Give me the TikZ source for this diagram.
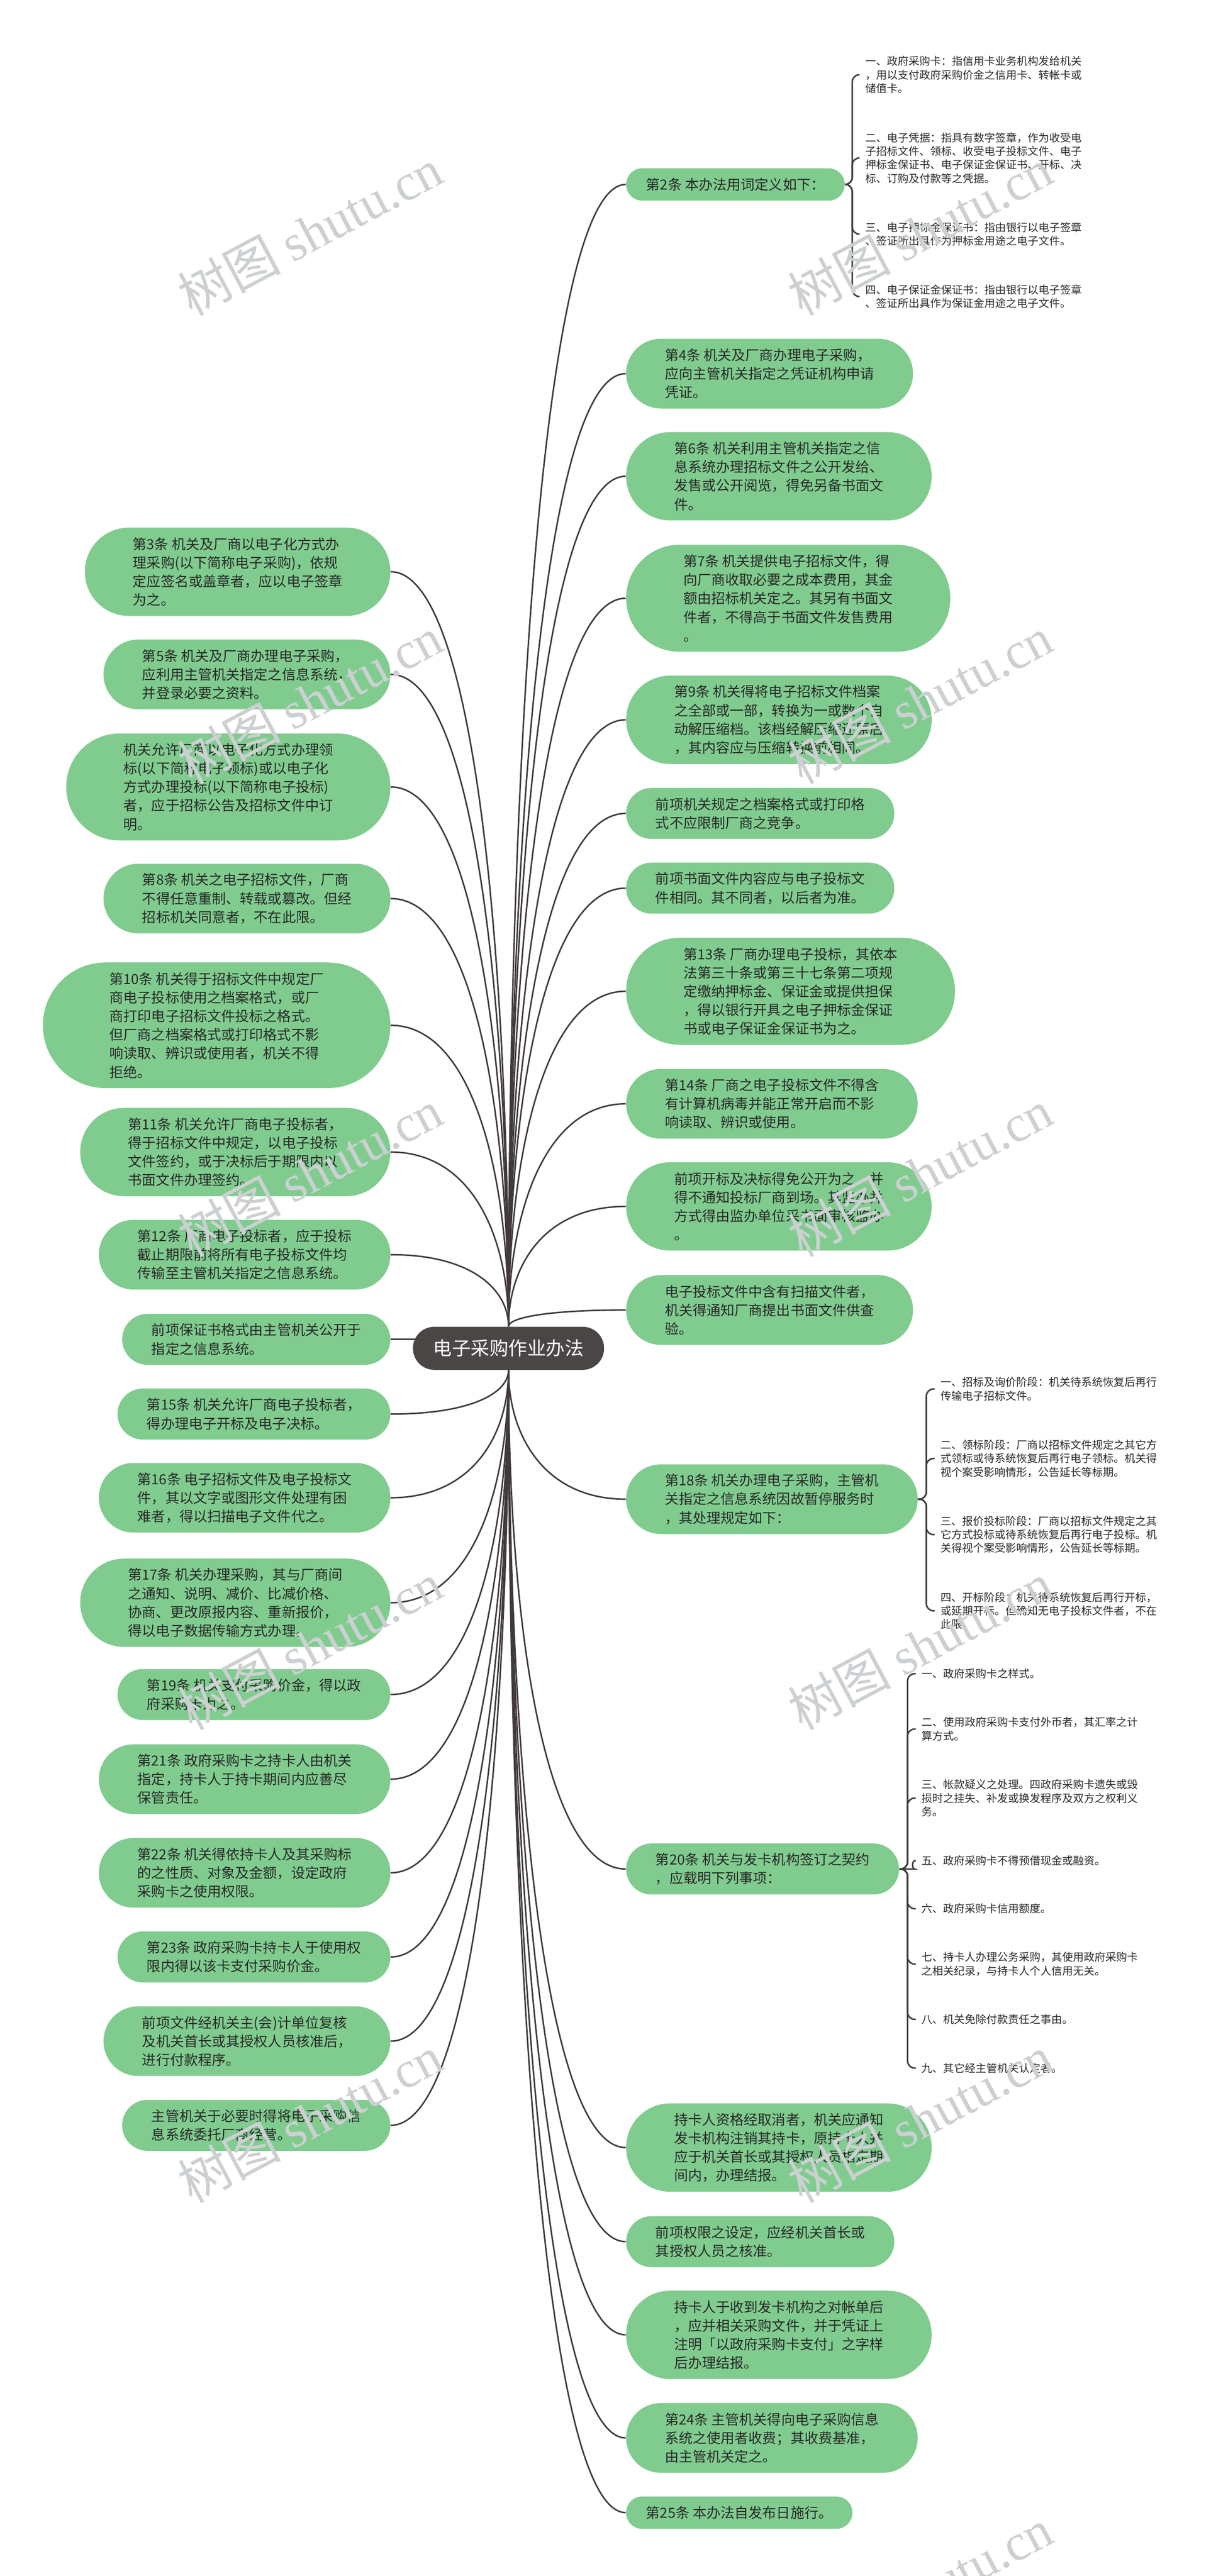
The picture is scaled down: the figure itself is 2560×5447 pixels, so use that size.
\documentclass[tikz,border=0pt]{standalone}
\usepackage{fontspec}
\setmainfont{Noto Sans CJK SC}
\newfontfamily\wmserif{Liberation Serif}
\usepackage{xcolor}
\usepackage{tikz}
\usetikzlibrary{backgrounds, calc}
\definecolor{mapgreen}{RGB}{128,204,143}
\definecolor{mapdark}{RGB}{74,70,70}
\definecolor{mapline}{RGB}{64,58,58}
\definecolor{maptext}{RGB}{40,40,40}
\definecolor{mapmark}{RGB}{205,208,210}

\begin{document}
\begin{tikzpicture}[
    x=0.01cm, y=-0.01cm,
    root/.style={rectangle, rounded corners=0.45cm, fill=mapdark, text=white, font=\fontsize{11.3pt}{13pt}\selectfont, minimum height=0.91cm, inner xsep=0.43cm, inner ysep=0.1cm},
    topic/.style={rectangle, fill=mapgreen, text=maptext, align=left, font=\fontsize{8.4pt}{11.2pt}\selectfont,
        minimum height={(0.394*#1+0.29)*1cm}, rounded corners={(0.196*#1+0.144)*1cm},
        inner xsep={(0.197*#1+0.145+0.08)*1cm}, inner ysep=0.1cm},
    leaf/.style={text=maptext, align=left, font=\fontsize{6.5pt}{8.15pt}\selectfont, inner xsep=0.12cm, inner ysep=0.03cm},
    link/.style={draw=mapline, line width=0.9pt},
    branch/.style={to path={.. controls ($(\tikztostart)!0.5!(\tikztostart |- \tikztotarget)$) and ($(\tikztotarget)!0.7!(\tikztostart |- \tikztotarget)$) .. (\tikztotarget)}},
    brace/.style={draw=mapline, line width=0.9pt, rounded corners=0.15cm},
    wmtext/.style={text=mapmark, rotate=28, font=\fontsize{31pt}{31pt}\selectfont}
]
\useasboundingbox (0,0) rectangle (2560,5447);

% Center topic
\node[root] (ctr) at (1075,2851) {电子采购作业办法};

% Right branches
\node[topic=1, anchor=west] (r1) at (1323,390) {第2条 本办法用词定义如下：};
\node[topic=3, anchor=west] (r2) at (1323,790) {第4条 机关及厂商办理电子采购，\\应向主管机关指定之凭证机构申请\\凭证。};
\node[topic=4, anchor=west] (r3) at (1323,1007) {第6条 机关利用主管机关指定之信\\息系统办理招标文件之公开发给、\\发售或公开阅览，得免另备书面文\\件。};
\node[topic=5, anchor=west] (r4) at (1323,1265) {第7条 机关提供电子招标文件，得\\向厂商收取必要之成本费用，其金\\额由招标机关定之。其另有书面文\\件者，不得高于书面文件发售费用\\。};
\node[topic=4, anchor=west] (r5) at (1323,1522) {第9条 机关得将电子招标文件档案\\之全部或一部，转换为一或数个自\\动解压缩档。该档经解压缩还原后\\，其内容应与压缩转换前相同。};
\node[topic=2, anchor=west] (r6) at (1323,1720) {前项机关规定之档案格式或打印格\\式不应限制厂商之竞争。};
\node[topic=2, anchor=west] (r7) at (1323,1878) {前项书面文件内容应与电子投标文\\件相同。其不同者，以后者为准。};
\node[topic=5, anchor=west] (r8) at (1323,2096) {第13条 厂商办理电子投标，其依本\\法第三十条或第三十七条第二项规\\定缴纳押标金、保证金或提供担保\\，得以银行开具之电子押标金保证\\书或电子保证金保证书为之。};
\node[topic=3, anchor=west] (r9) at (1323,2334) {第14条 厂商之电子投标文件不得含\\有计算机病毒并能正常开启而不影\\响读取、辨识或使用。};
\node[topic=4, anchor=west] (r10) at (1323,2551) {前项开标及决标得免公开为之，并\\得不通知投标厂商到场。其监办并\\方式得由监办单位采书面审核监办\\。};
\node[topic=3, anchor=west] (r11) at (1323,2770) {电子投标文件中含有扫描文件者，\\机关得通知厂商提出书面文件供查\\验。};
\node[topic=3, anchor=west] (r12) at (1323,3170) {第18条 机关办理电子采购，主管机\\关指定之信息系统因故暂停服务时\\，其处理规定如下：};
\node[topic=2, anchor=west] (r13) at (1323,3952) {第20条 机关与发卡机构签订之契约\\，应载明下列事项：};
\node[topic=4, anchor=west] (r14) at (1323,4541) {持卡人资格经取消者，机关应通知\\发卡机构注销其持卡，原持卡人并\\应于机关首长或其授权人员指定期\\间内，办理结报。};
\node[topic=2, anchor=west] (r15) at (1323,4740) {前项权限之设定，应经机关首长或\\其授权人员之核准。};
\node[topic=4, anchor=west] (r16) at (1323,4937) {持卡人于收到发卡机构之对帐单后\\，应并相关采购文件，并于凭证上\\注明「以政府采购卡支付」之字样\\后办理结报。};
\node[topic=3, anchor=west] (r17) at (1323,5155) {第24条 主管机关得向电子采购信息\\系统之使用者收费；其收费基准，\\由主管机关定之。};
\node[topic=1, anchor=west] (r18) at (1323,5313) {第25条 本办法自发布日施行。};

% Left branches
\node[topic=4, anchor=east] (l1) at (826,1209) {第3条 机关及厂商以电子化方式办\\理采购(以下简称电子采购)，依规\\定应签名或盖章者，应以电子签章\\为之。};
\node[topic=3, anchor=east] (l2) at (826,1426) {第5条 机关及厂商办理电子采购，\\应利用主管机关指定之信息系统，\\并登录必要之资料。};
\node[topic=5, anchor=east] (l3) at (826,1664) {机关允许厂商以电子化方式办理领\\标(以下简称电子领标)或以电子化\\方式办理投标(以下简称电子投标)\\者，应于招标公告及招标文件中订\\明。};
\node[topic=3, anchor=east] (l4) at (826,1900) {第8条 机关之电子招标文件，厂商\\不得任意重制、转载或篡改。但经\\招标机关同意者，不在此限。};
\node[topic=6, anchor=east] (l5) at (826,2168) {第10条 机关得于招标文件中规定厂\\商电子投标使用之档案格式，或厂\\商打印电子招标文件投标之格式。\\但厂商之档案格式或打印格式不影\\响读取、辨识或使用者，机关不得\\拒绝。};
\node[topic=4, anchor=east] (l6) at (826,2436) {第11条 机关允许厂商电子投标者，\\得于招标文件中规定，以电子投标\\文件签约，或于决标后于期限内以\\书面文件办理签约。};
\node[topic=3, anchor=east] (l7) at (826,2653) {第12条 厂商电子投标者，应于投标\\截止期限前将所有电子投标文件均\\传输至主管机关指定之信息系统。};
\node[topic=2, anchor=east] (l8) at (826,2832) {前项保证书格式由主管机关公开于\\指定之信息系统。};
\node[topic=2, anchor=east] (l9) at (826,2990) {第15条 机关允许厂商电子投标者，\\得办理电子开标及电子决标。};
\node[topic=3, anchor=east] (l10) at (826,3167) {第16条 电子招标文件及电子投标文\\件，其以文字或图形文件处理有困\\难者，得以扫描电子文件代之。};
\node[topic=4, anchor=east] (l11) at (826,3389) {第17条 机关办理采购，其与厂商间\\之通知、说明、减价、比减价格、\\协商、更改原报内容、重新报价，\\得以电子数据传输方式办理。};
\node[topic=2, anchor=east] (l12) at (826,3583) {第19条 机关支付采购价金，得以政\\府采购卡为之。};
\node[topic=3, anchor=east] (l13) at (826,3762) {第21条 政府采购卡之持卡人由机关\\指定，持卡人于持卡期间内应善尽\\保管责任。};
\node[topic=3, anchor=east] (l14) at (826,3960) {第22条 机关得依持卡人及其采购标\\的之性质、对象及金额，设定政府\\采购卡之使用权限。};
\node[topic=2, anchor=east] (l15) at (826,4138) {第23条 政府采购卡持卡人于使用权\\限内得以该卡支付采购价金。};
\node[topic=3, anchor=east] (l16) at (826,4316) {前项文件经机关主(会)计单位复核\\及机关首长或其授权人员核准后，\\进行付款程序。};
\node[topic=2, anchor=east] (l17) at (826,4494) {主管机关于必要时得将电子采购信\\息系统委托厂商经营。};

% Details of article 2
\node[leaf, anchor=west] (d1) at (1817,158) {一、政府采购卡：指信用卡业务机构发给机关\\，用以支付政府采购价金之信用卡、转帐卡或\\储值卡。};
\node[leaf, anchor=west] (d2) at (1817,334) {二、电子凭据：指具有数字签章，作为收受电\\子招标文件、领标、收受电子投标文件、电子\\押标金保证书、电子保证金保证书、开标、决\\标、订购及付款等之凭据。};
\node[leaf, anchor=west] (d3) at (1817,495) {三、电子押标金保证书：指由银行以电子签章\\、签证所出具作为押标金用途之电子文件。};
\node[leaf, anchor=west] (d4) at (1817,627) {四、电子保证金保证书：指由银行以电子签章\\、签证所出具作为保证金用途之电子文件。};

% Details of article 18
\node[leaf, anchor=west] (e1) at (1976,2937) {一、招标及询价阶段：机关待系统恢复后再行\\传输电子招标文件。};
\node[leaf, anchor=west] (e2) at (1976,3084) {二、领标阶段：厂商以招标文件规定之其它方\\式领标或待系统恢复后再行电子领标。机关得\\视个案受影响情形，公告延长等标期。};
\node[leaf, anchor=west] (e3) at (1976,3245) {三、报价投标阶段：厂商以招标文件规定之其\\它方式投标或待系统恢复后再行电子投标。机\\关得视个案受影响情形，公告延长等标期。};
\node[leaf, anchor=west] (e4) at (1976,3406) {四、开标阶段：机关待系统恢复后再行开标，\\或延期开标。但确知无电子投标文件者，不在\\此限。};

% Details of article 20
\node[leaf, anchor=west] (f1) at (1936,3539) {一、政府采购卡之样式。};
\node[leaf, anchor=west] (f2) at (1936,3656) {二、使用政府采购卡支付外币者，其汇率之计\\算方式。};
\node[leaf, anchor=west] (f3) at (1936,3802) {三、帐款疑义之处理。四政府采购卡遗失或毁\\损时之挂失、补发或换发程序及双方之权利义\\务。};
\node[leaf, anchor=west] (f4) at (1936,3934) {五、政府采购卡不得预借现金或融资。};
\node[leaf, anchor=west] (f5) at (1936,4036) {六、政府采购卡信用额度。};
\node[leaf, anchor=west] (f6) at (1936,4153) {七、持卡人办理公务采购，其使用政府采购卡\\之相关纪录，与持卡人个人信用无关。};
\node[leaf, anchor=west] (f7) at (1936,4270) {八、机关免除付款责任之事由。};
\node[leaf, anchor=west] (f8) at (1936,4373) {九、其它经主管机关认定者。};

% Junctions of the brackets
\coordinate (j2) at ($(r1.east)!0.5!(d1.west |- r1.east)$);
\coordinate (j18) at ($(r12.east)!0.5!(e1.west |- r12.east)$);
\coordinate (j20) at ($(r13.east)!0.5!(f1.west |- r13.east)$);

\begin{scope}[on background layer]
% Background
\fill[white] (0,0) rectangle (2560,5447);

% Connectors to the right
\draw[link] (ctr.north) to[branch] (r1.west);
\draw[link] (ctr.north) to[branch] (r2.west);
\draw[link] (ctr.north) to[branch] (r3.west);
\draw[link] (ctr.north) to[branch] (r4.west);
\draw[link] (ctr.north) to[branch] (r5.west);
\draw[link] (ctr.north) to[branch] (r6.west);
\draw[link] (ctr.north) to[branch] (r7.west);
\draw[link] (ctr.north) to[branch] (r8.west);
\draw[link] (ctr.north) to[branch] (r9.west);
\draw[link] (ctr.north) to[branch] (r10.west);
\draw[link] (ctr.north) to[branch] (r11.west);
\draw[link] (ctr.south) to[branch] (r12.west);
\draw[link] (ctr.south) to[branch] (r13.west);
\draw[link] (ctr.south) to[branch] (r14.west);
\draw[link] (ctr.south) to[branch] (r15.west);
\draw[link] (ctr.south) to[branch] (r16.west);
\draw[link] (ctr.south) to[branch] (r17.west);
\draw[link] (ctr.south) to[branch] (r18.west);

% Connectors to the left
\draw[link] (ctr.north) to[branch] (l1.east);
\draw[link] (ctr.north) to[branch] (l2.east);
\draw[link] (ctr.north) to[branch] (l3.east);
\draw[link] (ctr.north) to[branch] (l4.east);
\draw[link] (ctr.north) to[branch] (l5.east);
\draw[link] (ctr.north) to[branch] (l6.east);
\draw[link] (ctr.north) to[branch] (l7.east);
\draw[link] (l8.east) -- (l8.east -| ctr.center);
\draw[link] (ctr.south) to[branch] (l9.east);
\draw[link] (ctr.south) to[branch] (l10.east);
\draw[link] (ctr.south) to[branch] (l11.east);
\draw[link] (ctr.south) to[branch] (l12.east);
\draw[link] (ctr.south) to[branch] (l13.east);
\draw[link] (ctr.south) to[branch] (l14.east);
\draw[link] (ctr.south) to[branch] (l15.east);
\draw[link] (ctr.south) to[branch] (l16.east);
\draw[link] (ctr.south) to[branch] (l17.east);

% Brackets
\draw[brace] (r1.east) -- (j2) |- (d1.west);
\draw[brace] (r1.east) -- (j2) |- (d2.west);
\draw[brace] (r1.east) -- (j2) |- (d3.west);
\draw[brace] (r1.east) -- (j2) |- (d4.west);
\draw[brace] (r12.east) -- (j18) |- (e1.west);
\draw[brace] (r12.east) -- (j18) |- (e2.west);
\draw[brace] (r12.east) -- (j18) |- (e3.west);
\draw[brace] (r12.east) -- (j18) |- (e4.west);
\draw[brace] (r13.east) -- (j20) |- (f1.west);
\draw[brace] (r13.east) -- (j20) |- (f2.west);
\draw[brace] (r13.east) -- (j20) |- (f3.west);
\draw[brace] (r13.east) -- (j20) to[out=0, in=180] (f4.west);
\draw[brace] (r13.east) -- (j20) |- (f5.west);
\draw[brace] (r13.east) -- (j20) |- (f6.west);
\draw[brace] (r13.east) -- (j20) |- (f7.west);
\draw[brace] (r13.east) -- (j20) |- (f8.west);
\end{scope}

% Watermarks
\node[wmtext] (wm1) at (655,490) {树图 {\wmserif shutu.cn}};
\node[wmtext] (wm2) at (1945,490) {树图 {\wmserif shutu.cn}};
\node[wmtext] (wm3) at (655,1480) {树图 {\wmserif shutu.cn}};
\node[wmtext] (wm4) at (1945,1480) {树图 {\wmserif shutu.cn}};
\node[wmtext] (wm5) at (655,2480) {树图 {\wmserif shutu.cn}};
\node[wmtext] (wm6) at (1945,2480) {树图 {\wmserif shutu.cn}};
\node[wmtext] (wm7) at (655,3480) {树图 {\wmserif shutu.cn}};
\node[wmtext] (wm8) at (1945,3480) {树图 {\wmserif shutu.cn}};
\node[wmtext] (wm9) at (655,4480) {树图 {\wmserif shutu.cn}};
\node[wmtext] (wm10) at (1945,4480) {树图 {\wmserif shutu.cn}};
\node[wmtext] (wm11) at (1945,5480) {树图 {\wmserif shutu.cn}};

\end{tikzpicture}
\end{document}
